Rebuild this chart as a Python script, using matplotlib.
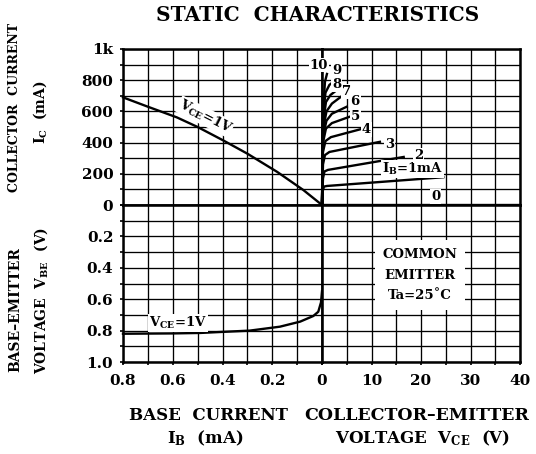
import matplotlib
matplotlib.use("Agg")
import matplotlib.pyplot as plt
import numpy as np

plt.rcParams['font.family'] = ['DejaVu Serif']
plt.rcParams['font.weight'] = 'bold'
plt.rcParams['mathtext.fontset'] = 'custom'
plt.rcParams['mathtext.rm'] = 'DejaVu Serif:bold'
plt.rcParams['mathtext.it'] = 'DejaVu Serif:bold'
plt.rcParams['mathtext.bf'] = 'DejaVu Serif:bold'

# ---------------- data ----------------
# Top-left: IC vs IB at VCE = 1V
ib_tl = [0.8, 0.7, 0.584, 0.5, 0.397, 0.30, 0.18, 0.075, 0.0]
ic_tl = [690, 630, 562, 500, 414, 329, 212, 96, 0]

# Bottom-left: VBE vs IB at VCE = 1V
ib_bl = [0.8, 0.6, 0.49, 0.29, 0.169, 0.088, 0.035, 0.015, 0.004, 0.0]
vbe_bl = [0.82, 0.818, 0.815, 0.80, 0.775, 0.743, 0.707, 0.68, 0.62, 0.55]

# Top-right: IC vs VCE for IB = 0..10 mA
ib_levels = ["0", "IB=1mA", "2", "3", "4", "5", "6", "7", "8", "9", "10"]
vce_curves = [
    [0, 40],
    [0, 0.15, 0.4, 1.0, 24.5],
    [0, 0.2, 0.5, 1.2, 16.5],
    [0, 0.2, 0.6, 1.5, 11.7],
    [0, 0.2, 0.7, 1.8, 7.7],
    [0, 0.2, 0.8, 2.0, 5.6],
    [0, 0.2, 0.9, 2.0, 5.0],
    [0, 0.2, 0.9, 2.0, 4.3],
    [0, 0.2, 0.8, 1.7, 3.0],
    [0, 0.2, 0.7, 1.5, 2.3],
    [0, 0.2, 0.6, 1.0],
]
ic_curves = [
    [0, 0],
    [0, 90, 118, 122, 178],
    [0, 170, 215, 225, 308],
    [0, 260, 320, 340, 405],
    [0, 340, 410, 435, 485],
    [0, 400, 490, 525, 566],
    [0, 440, 540, 585, 630],
    [0, 480, 600, 650, 705],
    [0, 520, 660, 705, 737],
    [0, 560, 720, 770, 790],
    [0, 600, 790, 840],
]
# label anchor points (VCE, IC)
lab_vce = [23.0, 18.3, 19.5, 13.6, 9.0, 6.7, 6.7, 5.0, 3.0, 3.0, -0.7]
lab_ic = [53, 230, 318, 391, 485, 570, 662, 726, 770, 862, 897]

ic_ticks = [0, 100, 200, 300, 400, 500, 600, 700, 800, 900, 1000]
ic_ticklabels = ["0", "", "200", "", "400", "", "600", "", "800", "", "1k"]
vbe_ticks = [0, 0.1, 0.2, 0.3, 0.4, 0.5, 0.6, 0.7, 0.8, 0.9, 1.0]
vbe_ticklabels = ["", "", "0.2", "", "0.4", "", "0.6", "", "0.8", "", "1.0"]
ib_ticks = [0, 0.1, 0.2, 0.3, 0.4, 0.5, 0.6, 0.7, 0.8]
ib_ticklabels = ["", "", "0.2", "", "0.4", "", "0.6", "", "0.8"]
vce_ticks = [0, 5, 10, 15, 20, 25, 30, 35, 40]
vce_ticklabels = ["0", "", "10", "", "20", "", "30", "", "40"]

# ---------------- figure ----------------
W, H = 536, 454
fig = plt.figure(figsize=(W / 100, H / 100), dpi=100)

def rect(x0, y0, x1, y1):
    return [x0 / W, 1 - y1 / H, (x1 - x0) / W, (y1 - y0) / H]

ax_tl = fig.add_axes(rect(123, 49, 322, 205))
ax_tr = fig.add_axes(rect(322, 49, 520, 205))
ax_bl = fig.add_axes(rect(123, 205, 322, 362))
ax_br = fig.add_axes(rect(322, 205, 520, 362))

for ax in (ax_tl, ax_tr, ax_bl, ax_br):
    ax.set_axisbelow(True)
    ax.grid(True, color='black', lw=0.95)
    for s in ax.spines.values():
        s.set_linewidth(1.8)
        s.set_color('black')
    ax.tick_params(length=0, labelsize=11, width=1.2, color='black')

ax_tl.set_xlim(0.8, 0); ax_tl.set_ylim(0, 1000)
ax_tr.set_xlim(0, 40); ax_tr.set_ylim(0, 1000)
ax_bl.set_xlim(0.8, 0); ax_bl.set_ylim(1.0, 0)
ax_br.set_xlim(0, 40); ax_br.set_ylim(1.0, 0)

for ax in (ax_tl, ax_bl):
    ax.set_xticks(ib_ticks, [""] * len(ib_ticks))
for ax in (ax_tr, ax_br):
    ax.set_xticks(vce_ticks, [""] * len(vce_ticks))
for ax in (ax_tl, ax_tr):
    ax.set_yticks(ic_ticks, [""] * len(ic_ticks))
for ax in (ax_bl, ax_br):
    ax.set_yticks(vbe_ticks, [""] * len(vbe_ticks))

ax_tl.set_yticks(ic_ticks, ic_ticklabels)
ax_bl.set_yticks(vbe_ticks, vbe_ticklabels)
ax_bl.set_xticks(ib_ticks, ib_ticklabels)
ax_br.set_xticks(vce_ticks, vce_ticklabels)
ax_tl.tick_params(axis='y', length=2.5, pad=4.5, direction='out')
ax_bl.tick_params(axis='y', length=2.5, pad=4.5, direction='out')
ax_bl.tick_params(axis='x', length=2.5, pad=6, direction='out')
ax_br.tick_params(axis='x', length=2.5, pad=6, direction='out')
for t in ax_tl.get_yticklabels() + ax_bl.get_yticklabels() + ax_bl.get_xticklabels() + ax_br.get_xticklabels():
    t.set_fontweight('bold')

LW = 1.7
ax_tl.plot(ib_tl, ic_tl, color='black', lw=LW, clip_on=False)
ax_bl.plot(ib_bl, vbe_bl, color='black', lw=LW, clip_on=False)
for v, i in zip(vce_curves, ic_curves):
    ax_tr.plot(v, i, color='black', lw=LW, clip_on=False, solid_joinstyle='round')

box = dict(boxstyle='square,pad=0.06', fc='white', ec='none')
for name, x, y in zip(ib_levels, lab_vce, lab_ic):
    s = r"I$_{\rm B}$=1mA" if name.startswith("IB") else name
    ax_tr.text(x, y, s, ha='center', va='center', fontsize=9.5, fontweight='bold',
               bbox=box, clip_on=False, zorder=5)

ax_tl.text(0.47, 566, r"V$_{\rm CE}$=1V", rotation=-27, ha='center', va='center',
           fontsize=9.5, fontweight='bold', bbox=box, rotation_mode='anchor')
ax_bl.text(0.578, 0.753, r"V$_{\rm CE}$=1V", ha='center', va='center',
           fontsize=9.5, fontweight='bold', bbox=box)

ax_br.text(19.8, 0.446, "COMMON\nEMITTER\nTa=25˚C", ha='center', va='center',
           fontsize=9.5, fontweight='bold', linespacing=1.75,
           bbox=dict(boxstyle='square,pad=0.6', fc='white', ec='none'))

fig.text(317.5 / W, 1 - 15 / H, "STATIC  CHARACTERISTICS", ha='center', va='center',
         fontsize=14.5, fontweight='bold')

fig.text(15 / W, 1 - 107 / H, "COLLECTOR  CURRENT", rotation=90, ha='center', va='center',
         fontsize=9, fontweight='bold')
fig.text(40 / W, 1 - 112 / H, r"I$_{\rm C}$  (mA)", rotation=90, ha='center', va='center',
         fontsize=10, fontweight='bold')
fig.text(15 / W, 1 - 310 / H, "BASE–EMITTER", rotation=90, ha='center', va='center',
         fontsize=10, fontweight='bold')
fig.text(41 / W, 1 - 300 / H, r"VOLTAGE  V$_{\rm BE}$  (V)", rotation=90, ha='center', va='center',
         fontsize=10, fontweight='bold')

fig.text(208 / W, 1 - 415 / H, "BASE  CURRENT", ha='center', va='center',
         fontsize=12, fontweight='bold')
fig.text(205 / W, 1 - 438 / H, r"I$_{\rm B}$  (mA)", ha='center', va='center',
         fontsize=12, fontweight='bold')
fig.text(417 / W, 1 - 415 / H, "COLLECTOR–EMITTER", ha='center', va='center',
         fontsize=12.5, fontweight='bold')
fig.text(423 / W, 1 - 438 / H, r"VOLTAGE  V$_{\rm CE}$  (V)", ha='center', va='center',
         fontsize=12, fontweight='bold')

fig.savefig("out.png", dpi=100, facecolor='white')
